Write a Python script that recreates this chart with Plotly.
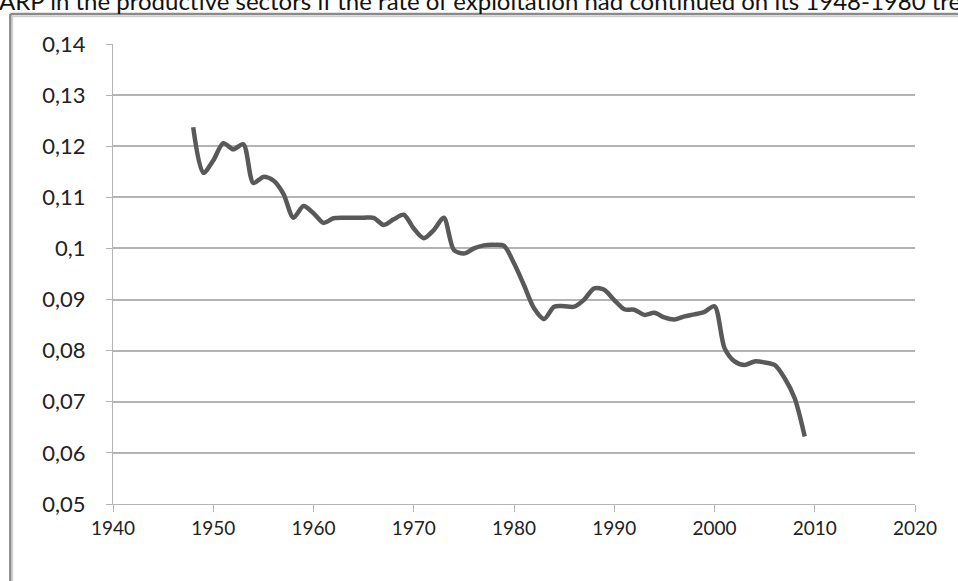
import plotly.graph_objects as go

# Annual values
years = list(range(1948, 2010))
arp = [
    0.1237, 0.1148, 0.1172, 0.1206, 0.1194, 0.1204, 0.1128, 0.1140, 0.1133, 0.1107,  # 1948-1957
    0.1060, 0.1083, 0.1069, 0.1050, 0.1059, 0.1060, 0.1060, 0.1060, 0.1060, 0.1046,  # 1958-1967
    0.1057, 0.1066, 0.1039, 0.1020, 0.1036, 0.1060, 0.0997, 0.0990, 0.1000, 0.1006,  # 1968-1977
    0.1007, 0.1005, 0.0971, 0.0928, 0.0883, 0.0862, 0.0886, 0.0887, 0.0886, 0.0900,  # 1978-1987
    0.0922, 0.0919, 0.0899, 0.0881, 0.0880, 0.0870, 0.0874, 0.0865, 0.0861, 0.0867,  # 1988-1997
    0.0871, 0.0876, 0.0887, 0.0805, 0.0779, 0.0772, 0.0779, 0.0777, 0.0772, 0.0746,  # 1998-2007
    0.0707, 0.0632,                                                                  # 2008-2009
]

x_ticks = list(range(1940, 2021, 10))
y_ticks = [0.05, 0.06, 0.07, 0.08, 0.09, 0.10, 0.11, 0.12, 0.13, 0.14]
y_tick_labels = ["0,05", "0,06", "0,07", "0,08", "0,09", "0,1", "0,11", "0,12", "0,13", "0,14"]

title_text = "ARP in the productive sectors if the rate of exploitation had continued on its 1948-1980 trend"

FONT = "Lato, 'Open Sans', sans-serif"
GRID = "#b4b4b4"
FRAME = "#8a8a8a"

fig = go.Figure()
fig.add_trace(go.Scatter(
    x=years, y=arp, mode="lines",
    line=dict(color="#595959", width=4.5, shape="spline", smoothing=0.8),
    hoverinfo="x+y", showlegend=False,
))

fig.update_layout(
    width=958, height=581,
    paper_bgcolor="white", plot_bgcolor="white",
    margin=dict(l=113, r=43, t=44, b=77),
    font=dict(family=FONT, size=19, color="#222222"),
    showlegend=False,
    xaxis=dict(
        range=[1940, 2020], tickvals=x_ticks, ticktext=[str(v) for v in x_ticks],
        showgrid=False, zeroline=False,
        showline=True, linecolor=GRID, linewidth=1,
        ticks="outside", ticklen=7, tickcolor=GRID, tickwidth=1,
        tickfont=dict(size=19, color="#222222"),
    ),
    yaxis=dict(
        range=[0.05, 0.14], tickvals=y_ticks, ticktext=y_tick_labels,
        showgrid=True, gridcolor=GRID, gridwidth=1.5, zeroline=False,
        showline=True, linecolor=GRID, linewidth=1,
        ticks="outside", ticklen=6, tickcolor=GRID, tickwidth=1,
        ticklabelstandoff=16,
        tickfont=dict(size=22, color="#222222"),
    ),
    shapes=[
        # outer chart frame (left and top edges, Excel-style)
        dict(type="line", xref="paper", yref="paper", x0=-0.128, x1=1.2, y0=1.065, y1=1.065,
             line=dict(color=FRAME, width=2.5)),
        dict(type="line", xref="paper", yref="paper", x0=-0.128, x1=-0.128, y0=1.065, y1=-0.3,
             line=dict(color=FRAME, width=2.5)),
        dict(type="line", xref="paper", yref="paper", x0=-0.1255, x1=-0.1255, y0=1.06, y1=-0.3,
             line=dict(color="#d0d0d0", width=1.5)),
        dict(type="line", xref="paper", yref="paper", x0=-0.126, x1=1.2, y0=1.060, y1=1.060,
             line=dict(color="#d0d0d0", width=1.5)),
    ],
    annotations=[
        # title sits at the very top edge, partly cropped as in the source image
        dict(text=title_text, xref="paper", yref="paper", x=-0.145, y=1.058,
             xanchor="left", yanchor="bottom", showarrow=False,
             font=dict(family=FONT, size=24, color="#111111")),
    ],
)

# drop the browser's default body margin so the figure starts at the page corner
fig.write_html("out.html", config={"displayModeBar": False},
               post_script="document.body.style.margin='0px';")
